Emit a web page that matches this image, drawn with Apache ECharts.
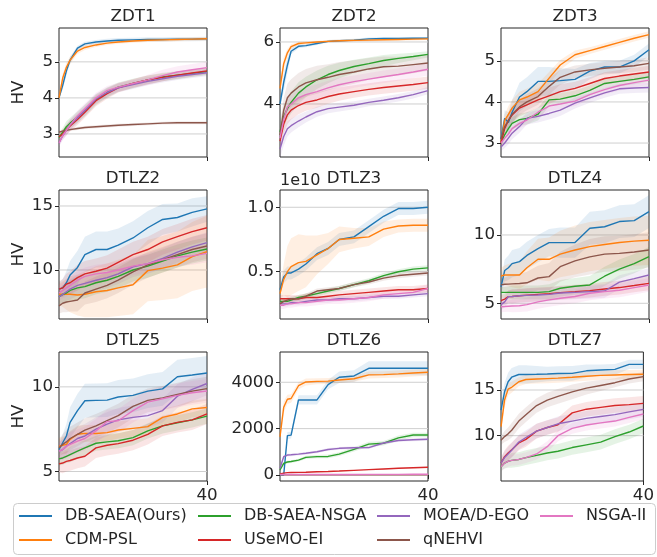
<!DOCTYPE html>
<html>
<head>
<meta charset="utf-8">
<title>HV curves</title>
<script src="https://cdn.jsdelivr.net/npm/echarts@6/dist/echarts.min.js"></script>
<style>
html, body { margin: 0; padding: 0; background: #fff; }
#chart { width: 657px; height: 557px; }
</style>
</head>
<body>
<div id="chart"></div>
<script>
// iterations sampled along x
const iters = [0, 1, 2, 3, 5, 7, 10, 13, 16, 20, 24, 28, 32, 36, 40];
const methods = ['DB-SAEA(Ours)', 'CDM-PSL', 'DB-SAEA-NSGA', 'USeMO-EI', 'MOEA/D-EGO', 'qNEHVI', 'NSGA-II'];
const colors = ['#1f77b4', '#ff7f0e', '#2ca02c', '#d62728', '#9467bd', '#8c564b', '#e377c2'];
const problems = ['ZDT1', 'ZDT2', 'ZDT3', 'DTLZ2', 'DTLZ3', 'DTLZ4', 'DTLZ5', 'DTLZ6', 'DTLZ7'];
const yMin = [2.36, 2.29, 2.66, 6.17, 0.133, 3.85, 4.44, -260, 5.04];
const yMax = [5.94, 6.45, 5.8, 16.25, 1.134, 13.29, 12.06, 5306, 19.16];
const yTicks = [[3, 4, 5], [4, 6], [3, 4, 5], [10, 15], [0.5, 1.0], [5, 10], [5, 10], [0, 2000, 4000], [10, 15]];

// rows follow the order of `methods`
const zdt1Mean = [
  [4.0, 4.35, 4.75, 5.05, 5.38, 5.5, 5.55, 5.58, 5.6, 5.61, 5.62, 5.62, 5.63, 5.63, 5.64],
  [4.0, 4.55, 4.85, 5.05, 5.3, 5.4, 5.47, 5.52, 5.55, 5.58, 5.6, 5.61, 5.62, 5.63, 5.64],
  [2.9, 3.05, 3.2, 3.3, 3.47, 3.65, 3.95, 4.15, 4.3, 4.4, 4.5, 4.58, 4.63, 4.68, 4.73],
  [2.92, 3.0, 3.12, 3.22, 3.4, 3.6, 3.92, 4.12, 4.28, 4.4, 4.5, 4.57, 4.63, 4.69, 4.75],
  [2.75, 2.95, 3.1, 3.25, 3.45, 3.65, 3.97, 4.15, 4.28, 4.37, 4.46, 4.53, 4.6, 4.65, 4.7],
  [3.05, 3.08, 3.1, 3.12, 3.15, 3.18, 3.2, 3.22, 3.24, 3.26, 3.28, 3.3, 3.31, 3.31, 3.31],
  [2.75, 2.95, 3.1, 3.25, 3.5, 3.7, 4.0, 4.2, 4.3, 4.4, 4.5, 4.62, 4.72, 4.78, 4.84]
];
const zdt1Std = [
  [0.05, 0.12, 0.12, 0.1, 0.07, 0.06, 0.06, 0.06, 0.06, 0.06, 0.06, 0.06, 0.06, 0.06, 0.06],
  [0.05, 0.12, 0.12, 0.1, 0.08, 0.07, 0.06, 0.05, 0.05, 0.05, 0.05, 0.05, 0.05, 0.05, 0.05],
  [0.1, 0.12, 0.15, 0.15, 0.16, 0.16, 0.15, 0.14, 0.13, 0.13, 0.12, 0.12, 0.11, 0.1, 0.1],
  [0.1, 0.12, 0.14, 0.15, 0.15, 0.15, 0.15, 0.14, 0.13, 0.12, 0.12, 0.11, 0.1, 0.1, 0.1],
  [0.1, 0.12, 0.14, 0.15, 0.15, 0.15, 0.14, 0.13, 0.12, 0.12, 0.11, 0.1, 0.1, 0.1, 0.1],
  [0.04, 0.04, 0.04, 0.04, 0.04, 0.04, 0.04, 0.04, 0.04, 0.04, 0.04, 0.04, 0.04, 0.04, 0.04],
  [0.1, 0.12, 0.15, 0.15, 0.15, 0.15, 0.14, 0.13, 0.12, 0.12, 0.14, 0.16, 0.16, 0.16, 0.16]
];

const zdt2Mean = [
  [4.0, 4.7, 5.25, 5.7, 5.86, 5.88, 5.95, 6.02, 6.04, 6.06, 6.1, 6.11, 6.11, 6.12, 6.12],
  [4.5, 5.3, 5.65, 5.85, 5.95, 5.97, 6.0, 6.02, 6.04, 6.05, 6.06, 6.07, 6.08, 6.09, 6.1],
  [3.1, 3.6, 3.85, 4.05, 4.35, 4.55, 4.78, 4.95, 5.08, 5.21, 5.3, 5.4, 5.47, 5.53, 5.6],
  [2.8, 3.35, 3.65, 3.8, 3.95, 4.05, 4.13, 4.24, 4.32, 4.4, 4.47, 4.53, 4.58, 4.63, 4.69],
  [2.55, 2.95, 3.2, 3.3, 3.45, 3.58, 3.75, 3.85, 3.9, 3.96, 4.05, 4.12, 4.2, 4.3, 4.43],
  [3.0, 3.8, 4.2, 4.35, 4.55, 4.68, 4.78, 4.86, 4.95, 5.03, 5.13, 5.2, 5.22, 5.27, 5.32],
  [2.9, 3.5, 3.9, 4.0, 4.2, 4.3, 4.4, 4.52, 4.62, 4.72, 4.8, 4.88, 4.95, 5.03, 5.12]
];
const zdt2Std = [
  [0.1, 0.3, 0.25, 0.1, 0.06, 0.05, 0.05, 0.04, 0.04, 0.04, 0.04, 0.04, 0.04, 0.04, 0.04],
  [0.2, 0.2, 0.12, 0.08, 0.05, 0.05, 0.04, 0.04, 0.04, 0.04, 0.04, 0.04, 0.04, 0.04, 0.04],
  [0.3, 0.35, 0.35, 0.35, 0.35, 0.33, 0.3, 0.28, 0.25, 0.22, 0.2, 0.18, 0.15, 0.12, 0.1],
  [0.3, 0.3, 0.3, 0.3, 0.28, 0.27, 0.25, 0.23, 0.22, 0.2, 0.2, 0.2, 0.2, 0.2, 0.2],
  [0.3, 0.3, 0.25, 0.22, 0.2, 0.18, 0.16, 0.15, 0.14, 0.13, 0.12, 0.12, 0.12, 0.12, 0.12],
  [0.3, 0.4, 0.45, 0.45, 0.45, 0.45, 0.45, 0.42, 0.4, 0.38, 0.35, 0.33, 0.3, 0.28, 0.25],
  [0.3, 0.3, 0.3, 0.28, 0.26, 0.25, 0.24, 0.23, 0.22, 0.2, 0.2, 0.2, 0.2, 0.2, 0.2]
];

const zdt3Mean = [
  [3.1, 3.6, 3.5, 3.75, 4.12, 4.25, 4.5, 4.5, 4.52, 4.55, 4.75, 4.85, 4.85, 5.0, 5.27],
  [3.0, 3.55, 3.7, 3.85, 4.05, 4.12, 4.25, 4.58, 4.9, 5.15, 5.25, 5.35, 5.45, 5.55, 5.64],
  [3.0, 3.2, 3.35, 3.48, 3.57, 3.6, 3.7, 4.05, 4.07, 4.15, 4.28, 4.45, 4.5, 4.55, 4.61],
  [3.0, 3.35, 3.55, 3.68, 3.85, 3.93, 4.05, 4.15, 4.25, 4.33, 4.45, 4.57, 4.63, 4.68, 4.73],
  [2.9, 3.0, 3.12, 3.24, 3.4, 3.6, 3.65, 3.72, 3.8, 3.97, 4.1, 4.22, 4.32, 4.34, 4.35],
  [3.1, 3.4, 3.55, 3.7, 3.88, 4.0, 4.13, 4.38, 4.6, 4.73, 4.78, 4.82, 4.85, 4.88, 4.94],
  [3.0, 3.12, 3.22, 3.35, 3.48, 3.56, 3.75, 3.9, 3.95, 4.02, 4.18, 4.3, 4.4, 4.47, 4.53]
];
const zdt3Std = [
  [0.1, 0.2, 0.25, 0.3, 0.35, 0.35, 0.35, 0.35, 0.3, 0.25, 0.2, 0.15, 0.15, 0.15, 0.15],
  [0.1, 0.15, 0.2, 0.2, 0.2, 0.2, 0.2, 0.15, 0.12, 0.1, 0.08, 0.08, 0.08, 0.08, 0.08],
  [0.1, 0.12, 0.15, 0.15, 0.15, 0.15, 0.15, 0.15, 0.14, 0.13, 0.12, 0.12, 0.12, 0.12, 0.12],
  [0.1, 0.15, 0.18, 0.2, 0.2, 0.2, 0.2, 0.2, 0.18, 0.16, 0.15, 0.15, 0.15, 0.15, 0.15],
  [0.1, 0.12, 0.15, 0.15, 0.15, 0.15, 0.15, 0.15, 0.14, 0.13, 0.12, 0.12, 0.12, 0.12, 0.12],
  [0.1, 0.15, 0.18, 0.2, 0.2, 0.2, 0.2, 0.2, 0.18, 0.16, 0.15, 0.15, 0.15, 0.15, 0.15],
  [0.1, 0.1, 0.12, 0.12, 0.12, 0.12, 0.12, 0.12, 0.12, 0.12, 0.12, 0.12, 0.12, 0.12, 0.12]
];

const dtlz2Mean = [
  [8.5, 8.6, 9.0, 9.6, 10.2, 11.2, 11.6, 11.6, 11.95, 12.5, 13.3, 13.95, 14.1, 14.5, 14.77],
  [8.1, 8.1, 8.1, 8.1, 8.05, 8.1, 8.3, 8.4, 8.6, 8.85, 9.95, 10.15, 10.4, 11.05, 11.43],
  [7.9, 8.1, 8.2, 8.4, 8.6, 8.7, 9.0, 9.2, 9.5, 10.0, 10.3, 10.7, 11.1, 11.4, 11.64],
  [8.5, 8.6, 8.9, 9.0, 9.4, 9.7, 9.9, 10.15, 10.6, 11.2, 11.6, 12.2, 12.6, 13.0, 13.3],
  [7.9, 8.1, 8.3, 8.5, 8.8, 8.95, 9.2, 9.4, 9.7, 10.25, 10.5, 10.9, 11.4, 11.8, 12.14],
  [7.2, 7.4, 7.5, 7.55, 7.65, 8.2, 8.5, 8.8, 9.2, 9.85, 10.4, 10.8, 11.2, 11.6, 11.87],
  [8.2, 8.4, 8.6, 8.8, 9.2, 9.5, 9.7, 9.8, 10.0, 10.3, 10.5, 10.8, 11.0, 11.1, 11.3]
];
const dtlz2Std = [
  [0.5, 0.7, 0.9, 1.1, 1.3, 1.4, 1.4, 1.4, 1.3, 1.3, 1.3, 1.2, 1.1, 1.1, 1.0],
  [0.8, 1.0, 1.2, 1.4, 1.6, 1.8, 2.0, 2.1, 2.2, 2.3, 2.4, 2.5, 2.6, 2.7, 2.8],
  [0.6, 0.7, 0.8, 0.8, 0.9, 0.9, 0.9, 0.9, 0.9, 0.9, 0.9, 0.9, 0.9, 0.9, 0.9],
  [0.6, 0.7, 0.8, 0.9, 1.0, 1.0, 1.0, 1.0, 1.0, 1.0, 1.0, 1.0, 1.0, 1.0, 1.0],
  [0.6, 0.7, 0.7, 0.8, 0.8, 0.8, 0.8, 0.8, 0.8, 0.8, 0.8, 0.8, 0.8, 0.8, 0.8],
  [0.6, 0.7, 0.8, 0.8, 0.9, 0.9, 1.0, 1.0, 1.0, 1.0, 1.0, 1.0, 1.0, 1.0, 1.0],
  [0.6, 0.6, 0.7, 0.7, 0.7, 0.7, 0.7, 0.7, 0.7, 0.7, 0.7, 0.7, 0.7, 0.7, 0.7]
];

// DTLZ3 values are in units of 1e10
const dtlz3Mean = [
  [0.36, 0.46, 0.49, 0.49, 0.52, 0.56, 0.64, 0.68, 0.75, 0.77, 0.85, 0.93, 0.99, 0.99, 1.0],
  [0.33, 0.44, 0.5, 0.54, 0.57, 0.58, 0.63, 0.68, 0.75, 0.76, 0.77, 0.83, 0.855, 0.86, 0.86],
  [0.27, 0.27, 0.27, 0.28, 0.3, 0.31, 0.33, 0.35, 0.37, 0.4, 0.43, 0.47, 0.5, 0.52, 0.53],
  [0.29, 0.29, 0.29, 0.29, 0.29, 0.3, 0.3, 0.31, 0.32, 0.33, 0.34, 0.35, 0.36, 0.36, 0.37],
  [0.25, 0.25, 0.25, 0.26, 0.26, 0.27, 0.28, 0.28, 0.29, 0.29, 0.3, 0.31, 0.31, 0.32, 0.33],
  [0.25, 0.27, 0.28, 0.29, 0.29, 0.31, 0.35, 0.36, 0.37, 0.4, 0.42, 0.45, 0.47, 0.48, 0.49],
  [0.24, 0.24, 0.25, 0.25, 0.26, 0.26, 0.27, 0.28, 0.28, 0.29, 0.3, 0.32, 0.33, 0.34, 0.37]
];
const dtlz3Std = [
  [0.04, 0.05, 0.05, 0.05, 0.05, 0.05, 0.05, 0.05, 0.05, 0.05, 0.05, 0.05, 0.05, 0.05, 0.05],
  [0.05, 0.12, 0.2, 0.22, 0.22, 0.2, 0.15, 0.12, 0.1, 0.08, 0.07, 0.06, 0.05, 0.05, 0.05],
  [0.02, 0.02, 0.02, 0.02, 0.02, 0.02, 0.02, 0.02, 0.02, 0.02, 0.02, 0.02, 0.02, 0.02, 0.02],
  [0.03, 0.03, 0.03, 0.03, 0.03, 0.03, 0.03, 0.03, 0.03, 0.03, 0.03, 0.03, 0.03, 0.03, 0.03],
  [0.02, 0.02, 0.02, 0.02, 0.02, 0.02, 0.02, 0.02, 0.02, 0.02, 0.02, 0.02, 0.02, 0.02, 0.02],
  [0.02, 0.02, 0.02, 0.02, 0.02, 0.02, 0.02, 0.02, 0.02, 0.02, 0.02, 0.02, 0.02, 0.02, 0.02],
  [0.03, 0.03, 0.03, 0.03, 0.03, 0.03, 0.03, 0.03, 0.03, 0.03, 0.03, 0.03, 0.03, 0.03, 0.03]
];

const dtlz4Mean = [
  [6.2, 7.4, 7.6, 7.9, 8.05, 8.5, 9.0, 9.44, 9.44, 9.44, 10.49, 10.6, 10.98, 11.05, 11.71],
  [7.0, 7.07, 7.07, 7.07, 7.07, 7.6, 8.22, 8.22, 8.6, 8.9, 9.15, 9.3, 9.45, 9.55, 9.61],
  [5.8, 5.8, 5.8, 5.8, 5.8, 5.8, 5.8, 5.85, 6.1, 6.25, 6.34, 6.98, 7.5, 7.9, 8.41],
  [5.2, 5.3, 5.49, 5.5, 5.55, 5.6, 5.65, 5.7, 5.78, 5.85, 5.93, 6.05, 6.15, 6.3, 6.46],
  [4.9, 5.1, 5.49, 5.5, 5.55, 5.58, 5.61, 5.65, 5.75, 5.8, 5.85, 5.9, 6.55, 6.8, 7.07],
  [6.35, 6.39, 6.4, 6.42, 6.45, 6.5, 6.85, 6.95, 7.68, 8.1, 8.4, 8.6, 8.65, 8.75, 8.9],
  [4.75, 4.76, 4.78, 4.8, 4.82, 4.9, 5.1, 5.25, 5.37, 5.5, 5.73, 5.85, 5.95, 6.15, 6.34]
];
const dtlz4Std = [
  [0.5, 0.8, 0.9, 1.0, 1.0, 1.0, 1.0, 1.0, 1.1, 1.1, 1.2, 1.2, 1.2, 1.2, 1.2],
  [0.6, 0.7, 0.8, 0.9, 1.0, 1.2, 1.5, 1.6, 1.7, 1.8, 1.8, 1.8, 1.8, 1.8, 1.8],
  [0.4, 0.4, 0.45, 0.5, 0.5, 0.5, 0.5, 0.55, 0.6, 0.6, 0.65, 0.7, 0.7, 0.7, 0.7],
  [0.4, 0.4, 0.45, 0.5, 0.5, 0.5, 0.5, 0.5, 0.5, 0.5, 0.5, 0.5, 0.5, 0.5, 0.5],
  [0.4, 0.4, 0.45, 0.5, 0.5, 0.5, 0.5, 0.5, 0.5, 0.5, 0.5, 0.5, 0.5, 0.5, 0.5],
  [0.5, 0.5, 0.6, 0.6, 0.7, 0.8, 0.9, 1.0, 1.1, 1.2, 1.3, 1.3, 1.3, 1.3, 1.3],
  [0.4, 0.4, 0.4, 0.45, 0.45, 0.5, 0.5, 0.5, 0.5, 0.5, 0.5, 0.5, 0.5, 0.5, 0.5]
];

const dtlz5Mean = [
  [6.3, 6.7, 7.1, 7.9, 8.6, 9.18, 9.2, 9.22, 9.4, 9.5, 9.75, 9.88, 10.6, 10.7, 10.82],
  [6.5, 6.55, 6.6, 6.9, 7.2, 7.25, 7.25, 7.3, 7.45, 7.55, 7.65, 8.2, 8.4, 8.7, 8.78],
  [5.75, 5.8, 5.9, 6.0, 6.2, 6.4, 6.67, 6.75, 6.82, 7.0, 7.4, 7.7, 7.88, 8.05, 8.27],
  [5.45, 5.5, 5.6, 5.65, 5.8, 5.9, 6.4, 6.55, 6.65, 6.85, 7.2, 7.7, 7.9, 8.05, 8.4],
  [6.2, 6.3, 6.5, 6.65, 6.95, 7.1, 7.5, 7.8, 8.05, 8.2, 8.3, 8.6, 9.45, 9.85, 10.2],
  [6.4, 6.6, 6.75, 6.95, 7.2, 7.45, 7.7, 8.0, 8.3, 8.85, 9.2, 9.35, 9.55, 9.75, 9.9],
  [6.2, 6.3, 6.5, 6.6, 6.8, 6.95, 7.4, 7.95, 8.0, 8.6, 9.1, 9.3, 9.5, 9.65, 9.76]
];
const dtlz5Std = [
  [0.3, 0.5, 0.7, 0.9, 1.0, 1.0, 1.0, 1.0, 1.0, 1.0, 1.0, 1.0, 1.0, 1.0, 1.0],
  [0.5, 0.5, 0.5, 0.5, 0.5, 0.5, 0.5, 0.5, 0.5, 0.5, 0.5, 0.5, 0.5, 0.5, 0.5],
  [0.4, 0.4, 0.4, 0.45, 0.45, 0.45, 0.45, 0.45, 0.45, 0.45, 0.45, 0.45, 0.45, 0.45, 0.45],
  [0.5, 0.6, 0.6, 0.6, 0.6, 0.6, 0.6, 0.6, 0.6, 0.6, 0.6, 0.6, 0.6, 0.6, 0.6],
  [0.5, 0.6, 0.7, 0.7, 0.7, 0.7, 0.7, 0.7, 0.7, 0.7, 0.7, 0.7, 0.7, 0.7, 0.7],
  [0.5, 0.6, 0.7, 0.7, 0.7, 0.7, 0.7, 0.7, 0.7, 0.7, 0.7, 0.7, 0.7, 0.7, 0.7],
  [0.5, 0.6, 0.6, 0.7, 0.7, 0.7, 0.7, 0.7, 0.7, 0.7, 0.7, 0.7, 0.7, 0.7, 0.7]
];

const dtlz6Mean = [
  [0, 0, 1700, 1720, 3237, 3237, 3237, 3900, 4216, 4273, 4604, 4604, 4604, 4604, 4604],
  [1650, 2921, 3266, 3300, 3850, 4014, 4040, 4050, 4100, 4150, 4317, 4330, 4360, 4400, 4432],
  [216, 500, 560, 580, 640, 760, 790, 800, 900, 1108, 1330, 1370, 1600, 1727, 1727],
  [43, 80, 100, 105, 110, 120, 140, 150, 170, 200, 230, 260, 290, 310, 331],
  [290, 790, 860, 870, 900, 935, 1000, 1100, 1150, 1175, 1180, 1380, 1490, 1520, 1539],
  [10, 10, 10, 10, 10, 10, 10, 10, 10, 10, 10, 10, 10, 10, 10],
  [20, 20, 20, 20, 20, 20, 20, 20, 20, 20, 25, 25, 25, 30, 30]
];
const dtlz6Std = [
  [0, 20, 150, 150, 200, 200, 200, 200, 250, 250, 300, 300, 300, 300, 300],
  [250, 250, 200, 180, 150, 150, 130, 130, 130, 130, 150, 150, 150, 150, 150],
  [50, 60, 60, 60, 60, 70, 70, 80, 80, 90, 100, 100, 100, 100, 100],
  [20, 20, 20, 20, 20, 20, 20, 20, 20, 20, 20, 20, 20, 20, 20],
  [60, 60, 60, 60, 60, 60, 60, 60, 60, 60, 60, 60, 60, 60, 60],
  [5, 5, 5, 5, 5, 5, 5, 5, 5, 5, 5, 5, 5, 5, 5],
  [10, 10, 10, 10, 10, 10, 10, 10, 10, 10, 10, 10, 10, 10, 10]
];

const dtlz7Mean = [
  [12.8, 14.8, 15.9, 16.4, 16.7, 16.7, 16.72, 16.75, 16.8, 16.82, 17.1, 17.19, 17.26, 17.81, 17.81],
  [11.0, 13.9, 15.1, 15.3, 15.9, 16.15, 16.2, 16.25, 16.3, 16.39, 16.5, 16.6, 16.65, 16.7, 16.72],
  [6.6, 7.0, 7.2, 7.3, 7.4, 7.6, 7.85, 8.1, 8.3, 8.7, 9.0, 9.3, 9.9, 10.4, 11.06],
  [7.0, 7.7, 8.1, 8.45, 9.2, 9.6, 10.5, 10.9, 11.2, 12.5, 12.9, 13.1, 13.3, 13.4, 13.54],
  [7.0, 7.6, 8.0, 8.4, 9.3, 9.8, 10.5, 10.9, 11.3, 11.6, 11.9, 12.1, 12.3, 12.6, 12.88],
  [9.5, 9.9, 10.2, 10.6, 11.6, 12.3, 13.3, 13.9, 14.3, 14.8, 15.2, 15.5, 15.8, 16.2, 16.46],
  [6.6, 7.0, 7.2, 7.3, 7.4, 7.6, 8.0, 8.8, 10.0, 10.8, 11.17, 11.4, 11.6, 12.0, 12.37]
];
const dtlz7Std = [
  [0.8, 1.0, 1.0, 1.0, 1.0, 1.0, 0.9, 0.8, 0.8, 0.8, 0.7, 0.6, 0.6, 0.5, 0.5],
  [0.8, 0.8, 0.7, 0.6, 0.5, 0.5, 0.5, 0.5, 0.5, 0.5, 0.5, 0.5, 0.5, 0.5, 0.5],
  [0.5, 0.6, 0.7, 0.8, 0.8, 0.8, 0.8, 0.8, 0.8, 0.8, 0.8, 0.8, 0.8, 0.8, 0.8],
  [0.6, 0.7, 0.8, 0.8, 0.8, 0.8, 0.8, 0.8, 0.8, 0.8, 0.8, 0.8, 0.8, 0.8, 0.8],
  [0.6, 0.7, 0.8, 0.8, 0.8, 0.8, 0.8, 0.8, 0.8, 0.8, 0.8, 0.8, 0.8, 0.8, 0.8],
  [0.5, 0.6, 0.7, 0.8, 0.8, 0.8, 0.8, 0.8, 0.8, 0.8, 0.7, 0.6, 0.5, 0.5, 0.5],
  [0.5, 0.6, 0.6, 0.6, 0.6, 0.6, 0.6, 0.6, 0.6, 0.6, 0.6, 0.6, 0.6, 0.6, 0.6]
];

const means = [zdt1Mean, zdt2Mean, zdt3Mean, dtlz2Mean, dtlz3Mean, dtlz4Mean, dtlz5Mean, dtlz6Mean, dtlz7Mean];
const stds = [zdt1Std, zdt2Std, zdt3Std, dtlz2Std, dtlz3Std, dtlz4Std, dtlz5Std, dtlz6Std, dtlz7Std];

const FONT = '"DejaVu Sans", sans-serif';
const INK = '#262626';
const colLeft = [59, 280, 501];
const rowTop = [28, 190, 352];
const plotW = 148, plotH = 129;

function rgba(hex, a) {
  const n = parseInt(hex.slice(1), 16);
  return 'rgba(' + (n >> 16) + ',' + ((n >> 8) & 255) + ',' + (n & 255) + ',' + a + ')';
}

let myChart = echarts.init(document.getElementById('chart'), null, { renderer: 'canvas' });

let grids = [], xAxes = [], yAxes = [], series = [], graphics = [];

problems.forEach(function (name, p) {
  const col = p % 3, row = Math.floor(p / 3);
  grids.push({
    left: colLeft[col], top: rowTop[row], width: plotW, height: plotH,
    show: true, borderColor: INK, borderWidth: 1, backgroundColor: 'transparent'
  });
  xAxes.push({
    gridIndex: p, type: 'value', min: 0, max: 40,
    axisLine: { show: false }, splitLine: { show: false },
    axisTick: { show: true, customValues: [40], length: 4, lineStyle: { color: INK } },
    axisLabel: { show: row === 2, customValues: [40], fontSize: 16.7, fontFamily: FONT, color: INK, margin: 6 }
  });
  yAxes.push({
    gridIndex: p, type: 'value', min: yMin[p], max: yMax[p],
    axisLine: { show: false }, splitLine: { show: false },
    axisTick: { show: true, customValues: yTicks[p], length: 4, lineStyle: { color: INK } },
    axisLabel: {
      customValues: yTicks[p], fontSize: 16.7, fontFamily: FONT, color: INK, margin: 6,
      formatter: function (v) { return p === 4 ? v.toFixed(1) : String(v); }
    },
    name: col === 0 ? 'HV' : '', nameLocation: 'middle', nameGap: 32, nameRotate: 90,
    nameTextStyle: { fontSize: 16.7, fontFamily: FONT, color: INK }
  });

  // horizontal grid lines across the x range at each y tick value
  yTicks[p].forEach(function (v) {
    series.push({
      type: 'line', xAxisIndex: p, yAxisIndex: p, silent: true, z: 0,
      data: [[0, v], [40, v]], symbol: 'none',
      lineStyle: { color: '#cfcfcf', width: 1 }
    });
  });

  // shaded bands (mean +/- std)
  methods.forEach(function (m, s) {
    const rows = iters.map(function (x, i) {
      return [x, means[p][s][i] - stds[p][s][i], means[p][s][i] + stds[p][s][i]];
    });
    series.push({
      type: 'custom', xAxisIndex: p, yAxisIndex: p, silent: true, z: 1, clip: true,
      data: rows,
      renderItem: function (params, api) {
        if (params.dataIndex !== 0) return;
        const up = rows.map(function (r) { return api.coord([r[0], r[2]]); });
        const dn = rows.map(function (r) { return api.coord([r[0], r[1]]); }).reverse();
        return {
          type: 'polygon', silent: true,
          shape: { points: up.concat(dn) },
          style: { fill: rgba(colors[s], 0.12) }
        };
      }
    });
  });

  // mean lines
  methods.forEach(function (m, s) {
    series.push({
      name: m, type: 'line', xAxisIndex: p, yAxisIndex: p, z: 3,
      data: iters.map(function (x, i) { return [x, means[p][s][i]]; }),
      symbol: 'none', showSymbol: false, color: colors[s],
      lineStyle: { width: 1.4, color: colors[s] }
    });
  });

  graphics.push({
    type: 'text', x: colLeft[col] + plotW / 2, y: rowTop[row] - 11,
    style: { text: name, font: '16.7px ' + FONT, fill: INK, align: 'center', verticalAlign: 'middle' }
  });
});

// offset text of DTLZ3
graphics.push({
  type: 'text', x: colLeft[1], y: rowTop[1] - 9,
  style: { text: '1e10', font: '16px ' + FONT, fill: INK, align: 'left', verticalAlign: 'middle' }
});

// legend frame
graphics.push({
  type: 'rect', z: -1,
  shape: { x: 13.5, y: 503.5, width: 642, height: 51, r: 4 },
  style: { fill: '#fff', stroke: '#cccccc', lineWidth: 1 }
});

// legend in matplotlib column-major order: 4 columns, 2 rows
const legCol = [19, 198, 377, 540];
const legRow = [516, 540];
let legends = methods.map(function (m, s) {
  return {
    data: [{ name: m, icon: 'rect' }],
    left: legCol[Math.floor(s / 2)], top: legRow[s % 2] - 9,
    padding: 0, itemWidth: 33, itemHeight: 2, selectedMode: false,
    textStyle: { fontSize: 16, fontFamily: FONT, color: INK, padding: [0, 0, 0, 8], lineHeight: 18 }
  };
});

let option = {
  animation: false,
  backgroundColor: '#fff',
  grid: grids,
  xAxis: xAxes,
  yAxis: yAxes,
  legend: legends,
  graphic: graphics,
  series: series
};
myChart.setOption(option);
window.addEventListener('resize', function () {
  myChart.resize();
});
</script>
</body>
</html>
